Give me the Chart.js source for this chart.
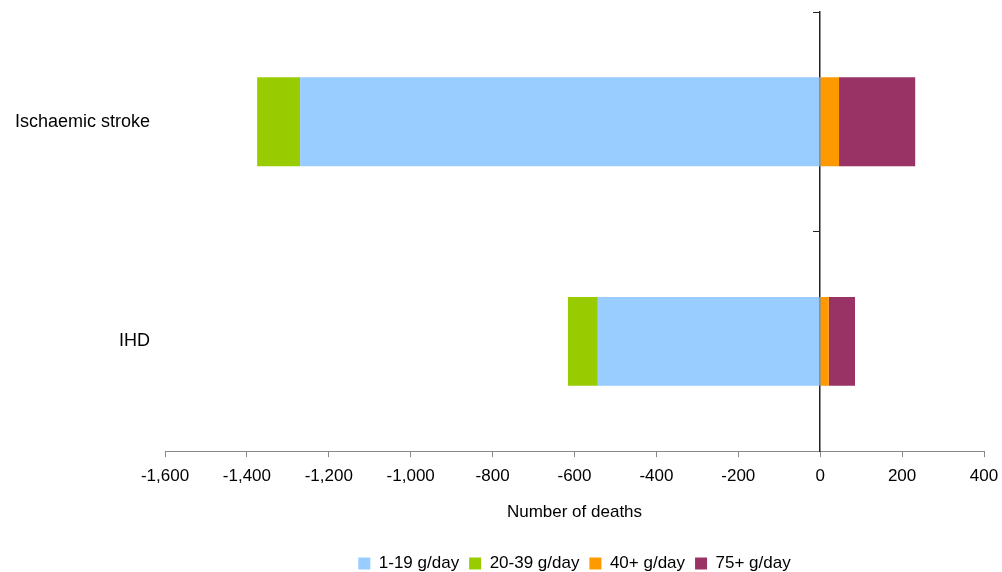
<!DOCTYPE html>
<html>
<head>
<meta charset="utf-8">
<script src="https://cdn.jsdelivr.net/npm/chart.js@4"></script>
<style>
  html, body { margin: 0; padding: 0; background: #fff; }
  #wrap { width: 1002px; height: 572px; }
</style>
</head>
<body>
<div id="wrap"><canvas id="myChart" width="1002" height="572"></canvas></div>
<script>
// Categories and series
var causes = ["Ischaemic stroke", "IHD"];
var seriesNames = ["1-19 g/day", "20-39 g/day", "40+ g/day", "75+ g/day"];
var low = [-1270, -543];      // 1-19 g/day
var mid = [-105, -73];        // 20-39 g/day
var high = [46, 21];          // 40+ g/day
var veryHigh = [186, 64];     // 75+ g/day
var seriesColours = ["#99CCFF", "#99CC00", "#FF9900", "#993366"];

var font = { family: "'Liberation Sans', Arial, sans-serif", size: 17 };
var catFont = { family: "'Liberation Sans', Arial, sans-serif", size: 18 };

var ctx = document.getElementById('myChart').getContext('2d');
var chart = new Chart(ctx, {
    type: "bar",
    data: {
        labels: causes,
        datasets: [low, mid, high, veryHigh].map(function (vals, i) {
            return {
                label: seriesNames[i],
                data: vals,
                backgroundColor: seriesColours[i],
                borderWidth: 0,
                categoryPercentage: 1,
                barPercentage: 0.405
            };
        })
    },
    options: {
        indexAxis: "y",
        responsive: false,
        animation: false,
        layout: { padding: { left: 0, right: 18, top: 12, bottom: -10 } },
        scales: {
            x: {
                stacked: true,
                min: -1600,
                max: 400,
                ticks: { stepSize: 200, color: "#000", font: font, padding: 9 },
                grid: { drawOnChartArea: false, tickLength: 6, color: "#888" },
                border: { color: "#888" },
                title: { display: true, text: "Number of deaths", color: "#000", font: font, padding: { top: 6.6, bottom: 22.4 } },
                afterFit: function (scale) { scale.paddingLeft = 0; scale.paddingRight = 0; }
            },
            y: {
                stacked: true,
                ticks: { color: "#000", font: catFont, padding: 15 },
                grid: { display: false, drawTicks: false },
                border: { display: false },
                afterFit: function (scale) {
                    scale.width = 165;
                    scale.paddingTop = 0;
                    scale.paddingBottom = 0;
                }
            },
            // vertical axis line at zero with its little tick marks
            yZero: {
                type: "category",
                axis: "y",
                position: { x: 0 },
                ticks: { display: false },
                grid: { drawOnChartArea: false, offset: true, tickLength: 6, color: "#222" },
                border: { color: "#222", width: 1.5 }
            }
        },
        plugins: {
            legend: {
                position: "bottom",
                fullSize: false,
                labels: { boxWidth: 12, boxHeight: 12, color: "#000", font: font, padding: 10 }
            },
            tooltip: { enabled: false }
        }
    }
});
</script>
</body>
</html>
